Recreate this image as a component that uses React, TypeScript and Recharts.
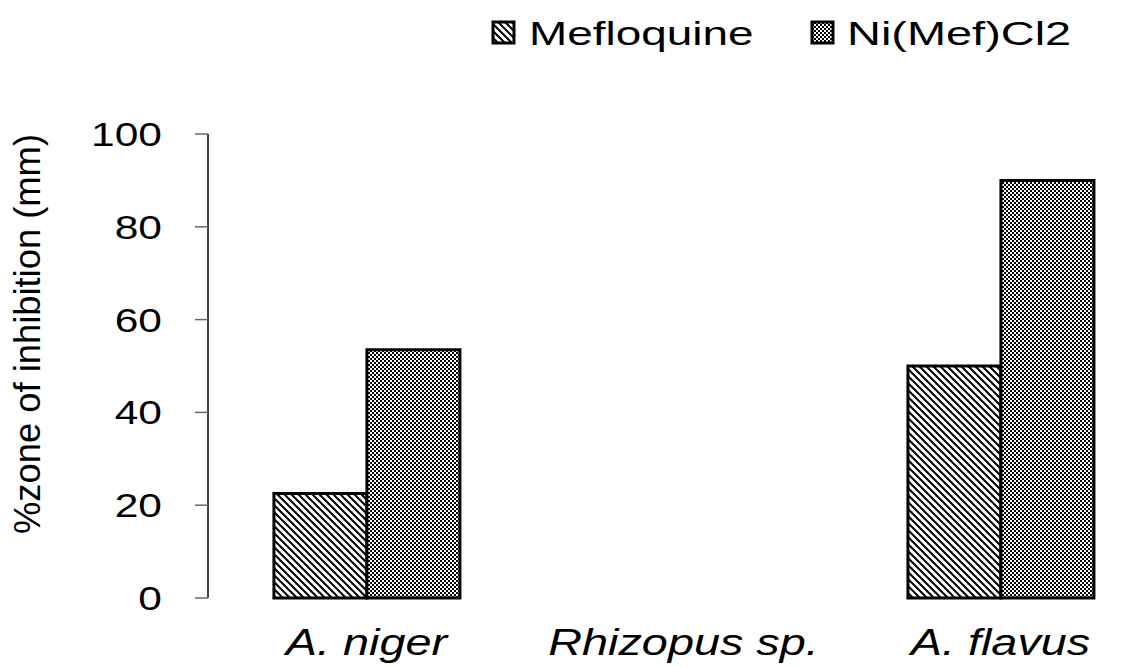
import React from 'react'
import { BarChart, Bar, XAxis, YAxis } from 'recharts'

const categories = ['A. niger', 'Rhizopus sp.', 'A. flavus']
const mefloquine = [22.5, 0, 50]
const niMefCl2 = [53.5, 0, 90]
const yTicks = [0, 20, 40, 60, 80, 100]
const boundaryTicks = [0, 1, 2, 3]

const data = categories.map((name, i) => ({
  name,
  mef: mefloquine[i],
  ni: niMefCl2[i],
}))

const FONT = '"Liberation Sans", Arial, Helvetica, sans-serif'

function YTick({ x, y, payload }: any) {
  return (
    <g transform={`translate(${x - 33},${y}) scale(1.25,1)`}>
      <text textAnchor="end" dy={12} fontSize={34} fontFamily={FONT} fill="#000">
        {payload.value}
      </text>
    </g>
  )
}

function XTick({ x, y, payload }: any) {
  return (
    <g transform={`translate(${x},${y + 57}) scale(1.3,1)`}>
      <text textAnchor="middle" fontSize={36} fontStyle="italic" fontFamily={FONT} fill="#000">
        {payload.value}
      </text>
    </g>
  )
}

function YLabel() {
  return (
    <text
      transform="translate(40,334) rotate(-90)"
      textAnchor="middle"
      fontSize={37}
      fontFamily={FONT}
      textLength={400}
      lengthAdjust="spacingAndGlyphs"
      fill="#000"
    >
      %zone of inhibition (mm)
    </text>
  )
}

export default function App() {
  return (
    <div style={{ position: 'absolute', left: 0, top: 0, width: 1146, height: 667, overflow: 'hidden', background: '#fff' }}>
      <BarChart
        width={1170}
        height={667}
        data={data}
        margin={{ top: 134, right: 11, bottom: 0, left: 0 }}
        barCategoryGap="20.8%"
        barGap={0}
      >
        <defs>
          <pattern id="diag" patternUnits="userSpaceOnUse" width={7} height={7}>
            <rect width={7} height={7} fill="#fff" />
            <path d="M-1,-1 L8,8 M-1,6 L1,8 M6,-1 L8,1" stroke="#000" strokeWidth={2} />
          </pattern>
          <pattern id="check" patternUnits="userSpaceOnUse" width={4} height={4}>
            <rect width={4} height={4} fill="#fff" />
            <rect width={2} height={2} fill="#000" />
            <rect x={2} y={2} width={2} height={2} fill="#000" />
          </pattern>
        </defs>
        <XAxis
          xAxisId="cat"
          dataKey="name"
          axisLine={false}
          tickLine={false}
          tickSize={0}
          tickMargin={0}
          height={69}
          tick={<XTick />}
          interval={0}
        />
        <XAxis
          xAxisId="edge"
          type="number"
          domain={[0, 3]}
          ticks={boundaryTicks}
          tick={false}
          tickSize={13}
          axisLine={{ stroke: '#808080', strokeWidth: 2 }}
          tickLine={{ stroke: '#555', strokeWidth: 1.5 }}
          height={0}
        />
        <YAxis
          domain={[0, 100]}
          ticks={yTicks}
          width={208}
          tickSize={13}
          tickMargin={0}
          axisLine={{ stroke: '#000', strokeWidth: 1.5 }}
          tickLine={{ stroke: '#666', strokeWidth: 1.5 }}
          tick={<YTick />}
          label={<YLabel />}
        />
        <Bar xAxisId="cat" dataKey="mef" name="Mefloquine" fill="url(#diag)" stroke="#000" strokeWidth={3} isAnimationActive={false} />
        <Bar xAxisId="cat" dataKey="ni" name="Ni(Mef)Cl2" fill="url(#check)" stroke="#000" strokeWidth={3} isAnimationActive={false} />
        <g fontFamily={FONT} fontSize={34}>
          <rect x={493} y={22} width={21} height={21} fill="url(#diag)" stroke="#000" strokeWidth={3} />
          <g transform="translate(529,45) scale(1.35,1)">
            <text fill="#000">Mefloquine</text>
          </g>
          <rect x={812} y={22} width={21} height={21} fill="url(#check)" stroke="#000" strokeWidth={3} />
          <g transform="translate(847,45) scale(1.38,1)">
            <text fill="#000">Ni(Mef)Cl2</text>
          </g>
        </g>
      </BarChart>
    </div>
  )
}
